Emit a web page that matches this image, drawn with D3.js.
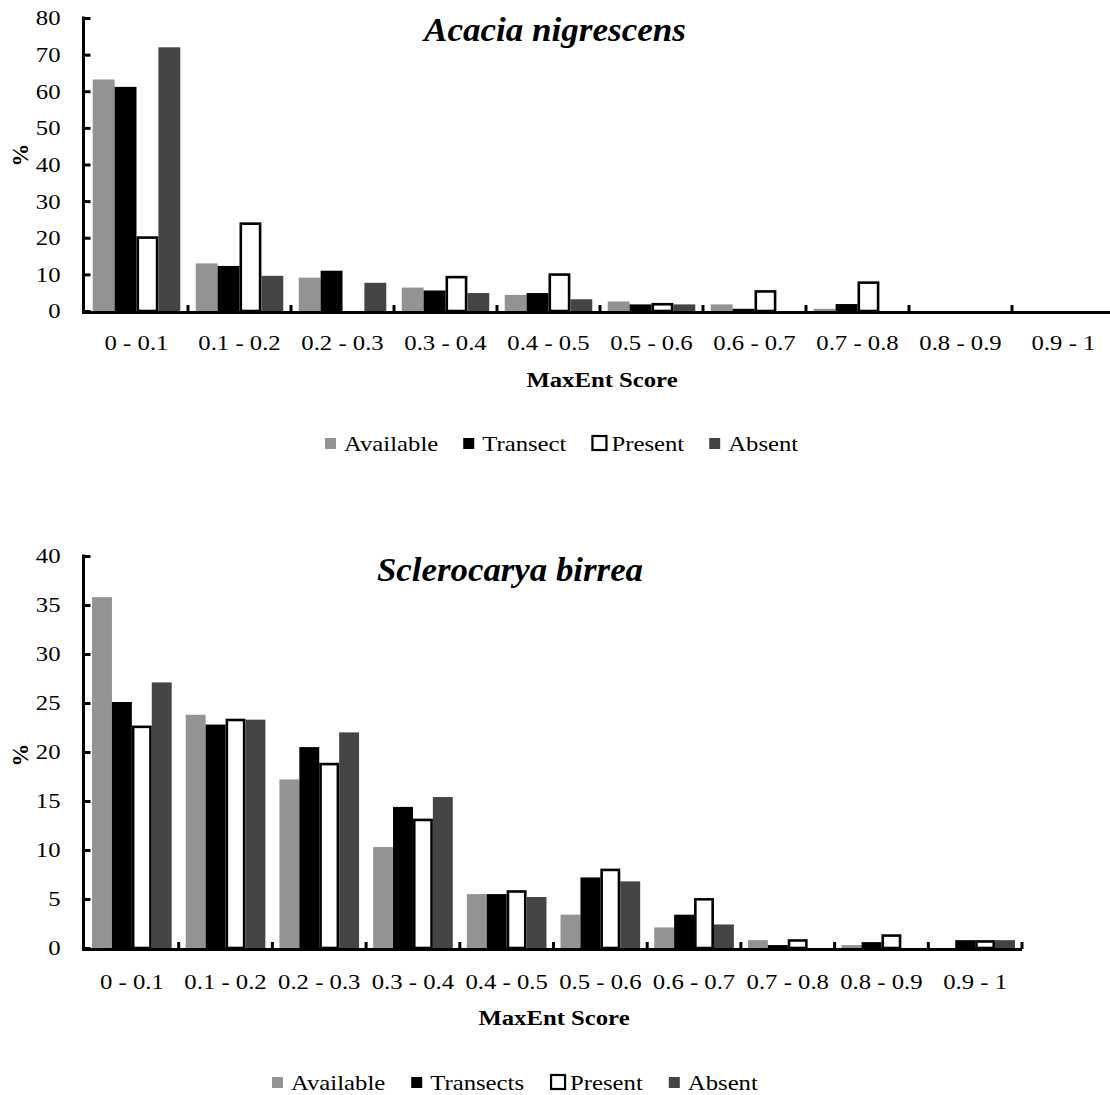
<!DOCTYPE html>
<html>
<head>
<meta charset="utf-8">
<script src="https://cdn.jsdelivr.net/npm/d3@7"></script>
<style>
  body { margin: 0; background: #fff; }
  svg { display: block; font-family: "Liberation Serif", "Times New Roman", serif; }
</style>
</head>
<body>
<script>
// categories along the x axis
var categories = ["0 - 0.1", "0.1 - 0.2", "0.2 - 0.3", "0.3 - 0.4", "0.4 - 0.5",
                  "0.5 - 0.6", "0.6 - 0.7", "0.7 - 0.8", "0.8 - 0.9", "0.9 - 1"];

var acaciaNames = ["Available", "Transect", "Present", "Absent"];
var sclerocaryaNames = ["Available", "Transects", "Present", "Absent"];

// Acacia nigrescens (%)
var acaciaAvailable = [63.2, 13.0, 9.1, 6.4, 4.4, 2.6, 1.8, 0.6, 0, 0];
var acaciaTransect  = [61.2, 12.3, 11.0, 5.6, 4.9, 1.8, 0.6, 1.9, 0, 0];
var acaciaPresent   = [20.4, 24.2, 0, 9.6, 10.3, 2.2, 5.7, 8.1, 0, 0];
var acaciaAbsent    = [72.0, 9.6, 7.7, 4.9, 3.2, 1.8, 0, 0, 0, 0];

// Sclerocarya birrea (%)
var scleroAvailable = [35.8, 23.8, 17.2, 10.3, 5.5, 3.4, 2.1, 0.8, 0.3, 0];
var scleroTransect  = [25.1, 22.8, 20.5, 14.4, 5.5, 7.2, 3.4, 0.3, 0.6, 0.8];
var scleroPresent   = [22.7, 23.4, 18.9, 13.2, 5.9, 8.1, 5.1, 0.9, 1.4, 0.8];
var scleroAbsent    = [27.1, 23.3, 22.0, 15.4, 5.2, 6.8, 2.4, 0, 0, 0.8];

var yTicksAcacia = [0, 10, 20, 30, 40, 50, 60, 70, 80];
var yTicksSclero = [0, 5, 10, 15, 20, 25, 30, 35, 40];

var fills = ["#939393", "#000000", "#ffffff", "#444444"];

// the source figure is a bit wider than tall, text included
var sx = 1.15;
var fontSize = 21.5;
var serif = "Liberation Serif, Times New Roman, serif";

var svg = d3.select("body").append("svg")
  .attr("width", 1110)
  .attr("height", 1095);

function drawChart(opt) {
  var x = d3.scaleBand()
    .domain(categories)
    .range([opt.left, opt.right])
    .paddingInner(0.15)
    .paddingOuter(0.075);

  var xs = d3.scaleBand()
    .domain(opt.names)
    .range([0, x.bandwidth()]);

  var y = d3.scaleLinear()
    .domain([0, d3.max(opt.yTicks)])
    .range([opt.bottom, opt.top]);

  var color = d3.scaleOrdinal().domain(opt.names).range(fills);

  var g = svg.append("g");

  // one layer per series so Absent ends up on top
  opt.series.forEach(function(values, i) {
    var name = opt.names[i];
    var rows = categories.map(function(c, j) { return { cat: c, value: values[j] }; })
      .filter(function(d) { return d.value > 0; });
    var isOutline = (i == 2);
    var sw = 2.6;

    g.append("g").selectAll("rect")
      .data(rows)
      .enter().append("rect")
      .attr("x", function(d) { return x(d.cat) + xs(name) + (isOutline ? sw / 2 : 0); })
      .attr("width", xs.bandwidth() - (isOutline ? sw : 0))
      .attr("y", function(d) { return y(d.value) + (isOutline ? sw / 2 : 0); })
      .attr("height", function(d) { return Math.max(0, y(0) - y(d.value) - (isOutline ? sw / 2 : 0)); })
      .attr("fill", color(name))
      .attr("stroke", isOutline ? "#000" : "none")
      .attr("stroke-width", isOutline ? sw : 0);
  });

  // x axis
  var xAxis = d3.axisBottom(x).tickSize(0).tickPadding(opt.xPad);
  var gx = g.append("g")
    .attr("transform", "translate(0," + (y(0) + 1.5) + ")")
    .call(xAxis)
    .attr("font-family", serif)
    .attr("font-size", fontSize);
  gx.select(".domain").attr("stroke", "#000").attr("stroke-width", 3.2)
    .attr("d", "M" + (opt.left - 1.5) + ",0H" + opt.right);
  gx.selectAll("text")
    .attr("fill", "#000")
    .attr("transform", "scale(" + sx + ",1)");

  // small marks between the categories
  var bounds = categories.map(function(c) { return x(c) - x.step() * x.paddingInner() / 2 + x.step(); });
  g.append("g").selectAll("line")
    .data(bounds)
    .enter().append("line")
    .attr("x1", function(d) { return d; })
    .attr("x2", function(d) { return d; })
    .attr("y1", y(0) + 1)
    .attr("y2", y(0) - 6)
    .attr("stroke", "#000")
    .attr("stroke-width", 3);

  // y axis, ticks inside
  var yAxis = d3.axisLeft(y).tickValues(opt.yTicks).tickSize(-7).tickSizeOuter(0);
  var gy = g.append("g")
    .attr("transform", "translate(" + (opt.left - 1.5) + ",0)")
    .call(yAxis)
    .attr("font-family", serif)
    .attr("font-size", fontSize);
  gy.select(".domain").attr("stroke", "#000").attr("stroke-width", 3)
    .attr("d", "M0," + (y(0) + 3) + "V" + (y(d3.max(opt.yTicks)) - 1.5));
  gy.selectAll(".tick line").attr("stroke", "#000").attr("stroke-width", 3);
  gy.selectAll("text")
    .attr("fill", "#000")
    .attr("x", -opt.yPad / sx)
    .attr("transform", "scale(" + sx + ",1)");

  // %
  g.append("text")
    .attr("transform", "translate(" + opt.yLabelX + "," + opt.yLabelY + ") rotate(-90)")
    .attr("text-anchor", "middle")
    .attr("font-size", 23)
    .attr("font-weight", "bold")
    .text("%");

  // title
  g.append("text")
    .attr("x", opt.titleX)
    .attr("y", opt.titleY)
    .attr("text-anchor", "middle")
    .attr("font-size", 33)
    .attr("font-weight", "bold")
    .attr("font-style", "italic")
    .attr("textLength", opt.titleLen)
    .attr("lengthAdjust", "spacingAndGlyphs")
    .text(opt.title);

  // x label
  g.append("text")
    .attr("transform", "translate(" + opt.xLabelX + "," + opt.xLabelY + ") scale(" + sx + ",1)")
    .attr("text-anchor", "middle")
    .attr("font-size", fontSize)
    .attr("font-weight", "bold")
    .text("MaxEnt Score");

  // legend
  var lg = g.append("g");
  var cx = opt.legendX;
  opt.names.forEach(function(name, i) {
    var isOutline = (i == 2);
    var s = isOutline ? 14 : 11;
    lg.append("rect")
      .attr("x", cx + (isOutline ? 1 : 0))
      .attr("y", opt.legendY - 13 + (isOutline ? -2 : 0))
      .attr("width", s)
      .attr("height", s)
      .attr("fill", color(name))
      .attr("stroke", isOutline ? "#000" : "none")
      .attr("stroke-width", isOutline ? 2.2 : 0);
    var tx = cx + (isOutline ? 20 : 19);
    var t = lg.append("text")
      .attr("transform", "translate(" + tx + "," + opt.legendY + ") scale(" + sx + ",1)")
      .attr("font-size", fontSize)
      .text(name);
    cx = tx + t.node().getComputedTextLength() * sx + opt.legendGap;
  });
}

drawChart({
  names: acaciaNames,
  series: [acaciaAvailable, acaciaTransect, acaciaPresent, acaciaAbsent],
  yTicks: yTicksAcacia,
  left: 85, right: 1115, top: 18, bottom: 311,
  xPad: 22, yPad: 23,
  title: "Acacia nigrescens", titleX: 555, titleY: 41, titleLen: 262,
  xLabelX: 602, xLabelY: 387,
  yLabelX: 28, yLabelY: 155,
  legendX: 325, legendY: 451, legendGap: 25
});

drawChart({
  names: sclerocaryaNames,
  series: [scleroAvailable, scleroTransect, scleroPresent, scleroAbsent],
  yTicks: yTicksSclero,
  left: 85, right: 1022, top: 556, bottom: 948,
  xPad: 24, yPad: 23,
  title: "Sclerocarya birrea", titleX: 510, titleY: 581, titleLen: 266,
  xLabelX: 554, xLabelY: 1025,
  yLabelX: 28, yLabelY: 755,
  legendX: 272, legendY: 1090, legendGap: 26
});
</script>
</body>
</html>
